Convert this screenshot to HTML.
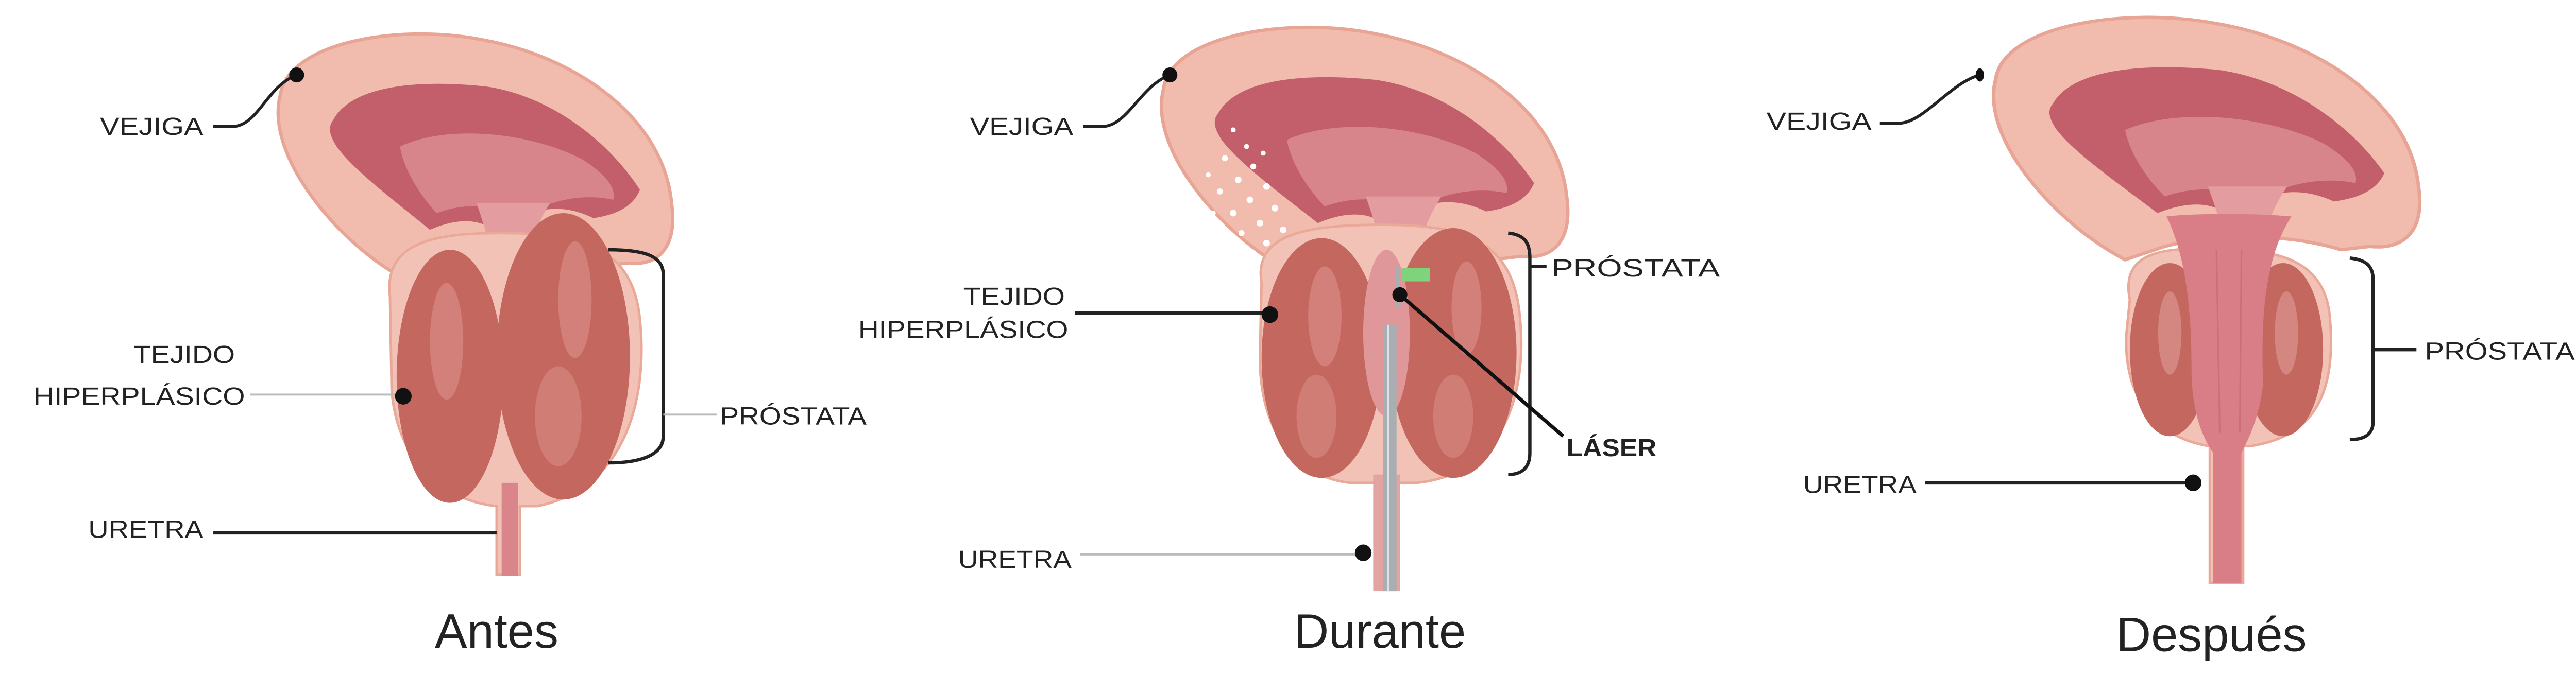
<!DOCTYPE html>
<html><head><meta charset="utf-8">
<style>
html,body{margin:0;padding:0;background:#fff;}
svg{display:block;}
text{font-family:"Liberation Sans",sans-serif;fill:#222;}
</style></head>
<body>
<svg width="5072" height="1313" viewBox="0 0 1568 406" preserveAspectRatio="none" xmlns="http://www.w3.org/2000/svg">
<defs>
  <g id="bladder">
    <path d="M168,58 C172,25 240,14 290,24 C345,34 398,70 403,122 C407,152 392,160 376,158 L360,160 C330,150 290,150 262,158 L240,166 C212,150 190,125 178,104 C168,86 165,70 168,58 Z" fill="#f1bcad" stroke="#e8a595" stroke-width="2"/>
    <path d="M200,72 C212,50 255,48 292,52 C332,58 366,86 384,114 C380,124 370,129 356,131 C338,122 320,124 306,136 L300,142 C290,130 274,131 258,138 C236,120 212,102 202,88 C197,80 197,76 200,72 Z" fill="#c25f6b"/>
    <path d="M240,88 C270,74 320,80 350,96 C362,104 370,112 368,120 C350,116 330,120 314,130 C296,122 278,122 262,128 C250,115 242,100 240,88 Z" fill="#d7848b"/>
    <path d="M286,122 C292,140 296,152 297,176 L315,176 C316,152 320,138 330,122 Z" fill="#e39ca0"/>
  </g>
</defs>

<rect width="1568" height="406" fill="#fff"/>

<!-- ===== Panel 1: Antes ===== -->
<use href="#bladder"/>
<path d="M234,178 C230,145 262,140 300,140 C352,140 380,150 384,192 C389,242 374,294 322,304 L312,304 L312,345 L298,345 L298,304 C262,300 238,274 235,234 Z" fill="#f2c2b6" stroke="#eaa898" stroke-width="1.5"/>
<ellipse cx="270" cy="226" rx="32" ry="76" fill="#c4675f"/>
<ellipse cx="338" cy="214" rx="40" ry="86" fill="#c4675f"/>
<ellipse cx="268" cy="205" rx="10" ry="35" fill="#d88c84" opacity="0.7"/>
<ellipse cx="345" cy="180" rx="10" ry="35" fill="#d88c84" opacity="0.7"/>
<ellipse cx="335" cy="250" rx="14" ry="30" fill="#d88c84" opacity="0.6"/>
<rect x="301" y="290" width="10" height="56" fill="#d9858a"/>

<text x="60" y="81" font-size="15" textLength="62" lengthAdjust="spacingAndGlyphs">VEJIGA</text>
<path d="M128,76 L140,76 C155,75 160,52 178,45" fill="none" stroke="#222" stroke-width="1.8"/>
<circle cx="178" cy="45" r="4.5" fill="#111"/>
<text x="80" y="218" font-size="15" textLength="61" lengthAdjust="spacingAndGlyphs">TEJIDO</text>
<text x="20" y="243" font-size="15" textLength="127" lengthAdjust="spacingAndGlyphs">HIPERPLÁSICO</text>
<line x1="150" y1="237" x2="240" y2="237" stroke="#bbb" stroke-width="1.2"/>
<circle cx="242" cy="238" r="5" fill="#111"/>
<path d="M365,150 C385,150 398,153 398,165 L398,262 C398,273 385,278 365,278" fill="none" stroke="#222" stroke-width="2"/>
<line x1="398" y1="249" x2="430" y2="249" stroke="#bbb" stroke-width="1.2"/>
<text x="432" y="255" font-size="15" textLength="88" lengthAdjust="spacingAndGlyphs">PRÓSTATA</text>
<text x="53" y="323" font-size="15" textLength="69" lengthAdjust="spacingAndGlyphs">URETRA</text>
<line x1="128" y1="320" x2="298" y2="320" stroke="#222" stroke-width="2"/>
<text x="298" y="389" font-size="29" text-anchor="middle" fill="#333">Antes</text>

<!-- ===== Panel 2: Durante ===== -->
<g transform="translate(525,-4) scale(1.03,1)"><use href="#bladder"/></g>
<g fill="#fff">
  <circle cx="740" cy="78" r="1.5"/><circle cx="748" cy="88" r="1.5"/><circle cx="735" cy="95" r="1.8"/><circle cx="752" cy="100" r="1.8"/>
  <circle cx="743" cy="108" r="2"/><circle cx="760" cy="112" r="2"/><circle cx="732" cy="115" r="1.8"/><circle cx="750" cy="120" r="2"/>
  <circle cx="765" cy="125" r="2"/><circle cx="740" cy="128" r="2"/><circle cx="756" cy="134" r="2"/><circle cx="770" cy="138" r="2"/>
  <circle cx="745" cy="140" r="1.8"/><circle cx="760" cy="146" r="2"/><circle cx="752" cy="152" r="1.8"/><circle cx="768" cy="150" r="1.8"/>
  <circle cx="725" cy="105" r="1.5"/><circle cx="728" cy="128" r="1.5"/><circle cx="758" cy="92" r="1.5"/>
</g>
<path d="M757,170 C752,140 785,135 830,135 C880,135 908,145 912,190 C917,240 900,285 850,290 L810,290 C770,285 756,250 756,215 Z" fill="#f2c2b6" stroke="#eaa898" stroke-width="1.5"/>
<ellipse cx="793" cy="215" rx="36" ry="72" fill="#c4675f"/>
<ellipse cx="872" cy="212" rx="38" ry="75" fill="#c4675f"/>
<ellipse cx="832" cy="200" rx="14" ry="50" fill="#e0979a"/>
<ellipse cx="795" cy="190" rx="10" ry="30" fill="#d88c84" opacity="0.7"/>
<ellipse cx="880" cy="185" rx="9" ry="28" fill="#d88c84" opacity="0.7"/>
<ellipse cx="790" cy="250" rx="12" ry="25" fill="#d88c84" opacity="0.6"/>
<ellipse cx="872" cy="250" rx="12" ry="25" fill="#d88c84" opacity="0.6"/>
<rect x="824" y="285" width="16" height="70" fill="#e2a3a3"/>
<path d="M830,195 L830,355 L838,355 L838,195 Z" fill="#a9aeb2"/>
<line x1="833" y1="195" x2="833" y2="355" stroke="#dde1e4" stroke-width="1.5"/>
<line x1="839" y1="160" x2="839" y2="185" stroke="#a9aeb2" stroke-width="2.5"/>
<rect x="841" y="161" width="17" height="8" fill="#7fd37a"/>

<text x="582" y="81" font-size="15" textLength="62" lengthAdjust="spacingAndGlyphs">VEJIGA</text>
<path d="M650,76 L662,76 C677,75 684,52 702,45" fill="none" stroke="#222" stroke-width="1.8"/>
<circle cx="702" cy="45" r="4.5" fill="#111"/>
<text x="578" y="183" font-size="15" textLength="61" lengthAdjust="spacingAndGlyphs">TEJIDO</text>
<text x="515" y="203" font-size="15" textLength="126" lengthAdjust="spacingAndGlyphs">HIPERPLÁSICO</text>
<line x1="645" y1="188" x2="760" y2="188" stroke="#222" stroke-width="2"/>
<circle cx="762" cy="189" r="5" fill="#111"/>
<path d="M905,140 C915,141 918,146 918,155 L918,272 C918,281 913,285 905,285" fill="none" stroke="#222" stroke-width="2"/>
<line x1="918" y1="160" x2="928" y2="160" stroke="#222" stroke-width="2"/>
<text x="931" y="166" font-size="15" textLength="101" lengthAdjust="spacingAndGlyphs">PRÓSTATA</text>
<circle cx="840" cy="177" r="4.5" fill="#111"/>
<line x1="840" y1="177" x2="938" y2="262" stroke="#111" stroke-width="2.2"/>
<text x="940" y="274" font-size="15" font-weight="bold" textLength="54" lengthAdjust="spacingAndGlyphs">LÁSER</text>
<text x="575" y="341" font-size="15" textLength="68" lengthAdjust="spacingAndGlyphs">URETRA</text>
<line x1="648" y1="333" x2="815" y2="333" stroke="#bbb" stroke-width="1.2"/>
<circle cx="818" cy="332" r="5" fill="#111"/>
<text x="828" y="389" font-size="29" text-anchor="middle" fill="#333">Durante</text>

<!-- ===== Panel 3: Después ===== -->
<g transform="translate(1016,-10) scale(1.08,1)"><use href="#bladder"/></g>
<path d="M1278,180 C1272,150 1300,148 1335,150 C1370,150 1395,158 1398,190 C1402,235 1390,262 1350,268 L1346,268 L1346,350 L1326,350 L1326,268 C1288,262 1274,232 1276,200 Z" fill="#f2c2b6" stroke="#eaa898" stroke-width="1.5"/>
<ellipse cx="1302" cy="210" rx="24" ry="52" fill="#c4675f"/>
<ellipse cx="1370" cy="210" rx="24" ry="52" fill="#c4675f"/>
<ellipse cx="1302" cy="200" rx="7" ry="25" fill="#dc9490" opacity="0.7"/>
<ellipse cx="1372" cy="200" rx="7" ry="25" fill="#dc9490" opacity="0.7"/>
<path d="M1300,130 C1315,128 1355,128 1375,130 C1362,150 1356,180 1358,230 C1356,250 1350,262 1345,272 L1345,350 L1328,350 L1328,272 C1320,260 1315,245 1315,220 C1315,180 1310,150 1300,130 Z" fill="#d97d86"/>
<path d="M1330,150 L1332,260 M1345,150 L1344,260" stroke="#c76670" stroke-width="1" opacity="0.6"/>

<text x="1060" y="78" font-size="15" textLength="63" lengthAdjust="spacingAndGlyphs">VEJIGA</text>
<path d="M1128,74 L1140,74 C1155,73 1170,50 1188,45" fill="none" stroke="#222" stroke-width="1.8"/>
<ellipse cx="1188" cy="45" rx="2.5" ry="4" fill="#111"/>
<path d="M1410,155 C1420,156 1424,160 1424,168 L1424,253 C1424,260 1420,264 1410,264" fill="none" stroke="#222" stroke-width="2"/>
<line x1="1424" y1="210" x2="1450" y2="210" stroke="#222" stroke-width="2"/>
<text x="1455" y="216" font-size="15" textLength="90" lengthAdjust="spacingAndGlyphs">PRÓSTATA</text>
<text x="1082" y="296" font-size="15" textLength="68" lengthAdjust="spacingAndGlyphs">URETRA</text>
<line x1="1155" y1="290" x2="1314" y2="290" stroke="#222" stroke-width="2"/>
<circle cx="1316" cy="290" r="5" fill="#111"/>
<text x="1327" y="391" font-size="29" text-anchor="middle" fill="#333">Después</text>
</svg>
</body></html>
